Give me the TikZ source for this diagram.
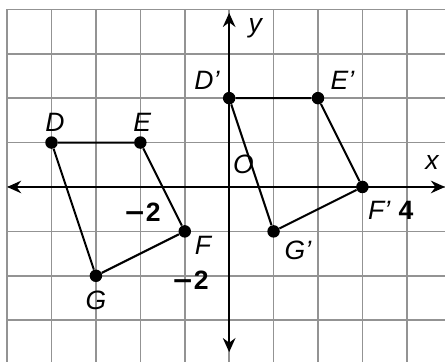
\documentclass[tikz,border=0pt]{standalone}
\usepackage{fontspec}
\setmainfont{Liberation Sans}
\usetikzlibrary{arrows.meta}
\begin{document}
\begin{tikzpicture}[x=1cm,y=1cm,
  gridline/.style={draw=gray!85,line width=1pt},
  axisline/.style={draw=black,line width=1.5pt,{Stealth[length=9pt,width=8pt]}-{Stealth[length=9pt,width=8pt]}},
  edge/.style={draw=black,line width=1.3pt},
  dot/.style={circle,fill=black,inner sep=0pt,minimum size=8pt},
  lab/.style={font=\fontsize{17}{20}\selectfont\itshape,inner sep=0pt},
  num/.style={font=\fontsize{17}{20}\selectfont\bfseries,inner sep=0pt}]
\useasboundingbox (-5.16,-3.94) rectangle (4.86,4.21);
\fill[white] (-5.16,-3.94) rectangle (4.86,4.21);
% grid
\foreach \i in {-5,...,4} \draw[gridline] (\i,-3.94) -- (\i,4);
\foreach \j in {-3,...,4} \draw[gridline] (-5,\j) -- (4.86,\j);
% axes
\coordinate (xl) at (-5,0);
\coordinate (xr) at (4.86,0);
\coordinate (yb) at (0,-3.72);
\coordinate (yt) at (0,3.92);
\draw[axisline] (xl) -- (xr);
\draw[axisline] (yb) -- (yt);
% points
\node[dot] (D) at (-4,1) {};
\node[dot] (E) at (-2,1) {};
\node[dot] (F) at (-1,-1) {};
\node[dot] (G) at (-3,-2) {};
\node[dot] (D2) at (0,2) {};
\node[dot] (E2) at (2,2) {};
\node[dot] (F2) at (3,0) {};
\node[dot] (G2) at (1,-1) {};
\draw[edge] (D) -- (E) -- (F) -- (G) -- (D);
\draw[edge] (D2) -- (E2) -- (F2) -- (G2) -- (D2);
% labels
\node[lab] (lD) at (-3.92,1.46) {D};
\node[lab] (lE) at (-1.96,1.46) {E};
\node[lab] (lF) at (-0.59,-1.31) {F};
\node[lab] (lG) at (-3.0,-2.55) {G};
\node[lab] (lD2) at (-0.5,2.41) {D’};
\node[lab] (lE2) at (2.55,2.41) {E’};
\node[lab] (lF2) at (3.38,-0.52) {F’};
\node[lab] (lG2) at (1.55,-1.42) {G’};
\node[lab] (lO) at (0.32,0.5) {O};
\node[lab] (lx) at (4.57,0.56) {x};
\node[lab] (ly) at (0.59,3.58) {y};
\node[num] (n4) at (3.98,-0.52) {4};
\node[num] (nx2) at (-1.96,-0.56) {\fontspec{DejaVu Sans}\bfseries −\fontspec{Liberation Sans}\bfseries 2};
\node[num] (ny2) at (-0.88,-2.09) {\fontspec{DejaVu Sans}\bfseries −\fontspec{Liberation Sans}\bfseries 2};
\end{tikzpicture}
\end{document}
